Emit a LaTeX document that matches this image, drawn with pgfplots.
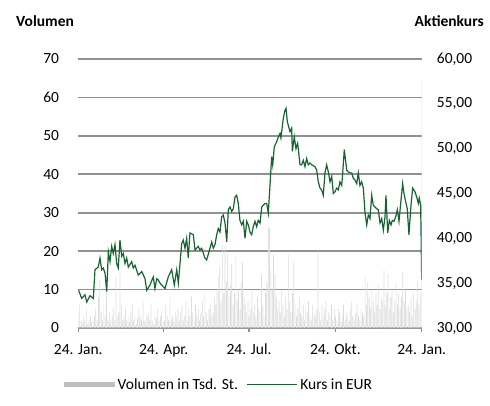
\documentclass[border=0pt]{standalone}
\usepackage{fontspec}
\setmainfont{Carlito}
\usepackage{pgfplots}
\usepackage{pgfplotstable}
\pgfplotsset{compat=1.18}
\definecolor{kurs}{RGB}{24,99,50}
\definecolor{vol}{RGB}{220,220,220}
\definecolor{legvol}{RGB}{191,191,191}
\definecolor{gridc}{RGB}{145,145,145}

\pgfplotstableread{
v
4
6
2
1.5
3
2
5
1
2
3
1.5
2
3
5
2
8
12.5
4
2
6
3
9.4
2
4
1.5
3
5
2
13.4
3
4
14.3
6
2
3
5
2
3
1.5
4
6
2
3
1
2.5
5
3
2
7
2
1.5
3
4
2
6
2
1
3
2.5
5
2
3
4
1.5
2
6
3
2
8
2
3
1.5
4
3
5
2
4
6
2
3
7
2
5
3
8.2
4
2
6
3
5
2
4
7
3
9.5
4
2
5
6
3
4
8
6
10
13.4
16
7
21.6
9
21.2
12
19.5
8
11
16.8
6
9
19
7
10
5
12
17
8
6
4
7
3
5
10
4
6
3
8
5
4
13.8
6
3
9
12
26.4
26
15
10
19
14
8
5
7
4
10
6
3
8
5
19
7
4
9
17
6
3
5
8
4
3
6
2
5
4
7
3
2
6
4
3
5
20
4
2
6
3
5
7
2
4
3
6
2
5
3
2
5
4
1.5
3
6
2
4
3
2
5
7
3
2
4
6
3
2
5
4
3
13.8
6
12
8
5
10
7
4
9
6
11
5
8
7
15
6
9
14
5
8
10
4
7
12
6
9
5
8
14.6
7
10
5
6
4
8
3
9
5
7
12
6
9
64.5
}\voltable

\pgfplotstableread{
d p
0 34.3
3.6 33.3
7.1 33.7
9.0 32.9
12.5 33.6
16.0 33.3
17.8 36.5
21.3 36.8
23.1 37.8
24.9 36.5
26.6 36.7
28.5 36.1
30.3 34.05
32.0 38.5
33.8 37.4
35.6 39.1
37.3 38.3
39.1 39.3
40.9 37.2
42.6 36.7
44.4 39.8
46.3 38.0
48.0 38.3
49.8 37.2
51.6 37.8
53.3 36.8
56.9 37.4
58.6 36.7
60.4 37.0
63.9 35.9
67.6 36.3
71.1 35.5
72.9 34.2
76.4 34.8
79.9 35.7
81.7 34.4
83.6 35.5
85.3 35.35
87.1 35.0
88.9 34.8
92.4 34.4
95.9 35.7
99.5 36.5
102.3 34.8
104.9 36.5
106.6 35.0
110.2 39.4
111.9 39.8
113.7 38.9
115.5 40.0
117.2 37.8
119.0 40.6
122.6 40.4
124.4 38.7
127.9 39.1
129.7 38.7
131.5 38.9
135.0 37.8
136.8 37.6
140.4 38.9
142.2 39.6
143.9 38.9
145.7 39.3
147.5 40.4
149.2 41.1
151.0 40.7
152.8 42.4
154.5 42.6
156.4 41.7
158.2 39.6
159.9 43.2
161.7 43.5
163.5 43.0
165.2 43.3
167.0 44.6
168.8 44.8
170.5 43.9
172.3 42.0
174.2 41.5
175.9 41.9
177.7 40.0
179.5 41.9
181.2 41.5
183.0 40.7
184.8 40.4
186.5 41.3
188.3 41.9
190.1 41.3
191.8 42.0
193.7 41.7
195.5 43.5
199.0 43.9
200.8 43.9
202.5 42.8
204.3 45.9
206.1 49.1
207.2 48.2
208.9 50.2
211.5 50.8
213.2 51.3
215.0 51.7
216.0 51.2
218.5 53.4
220.3 54.3
221.4 54.5
222.8 53.0
225.6 51.9
227.4 52.3
228.1 49.7
230.2 51.3
232.0 50.0
233.8 50.6
235.2 49.3
236.3 48.2
238.1 48.2
239.8 48.7
241.6 48.0
243.4 48.9
245.1 48.2
246.9 48.4
248.7 48.2
252.2 48.0
254.1 47.6
255.8 46.3
257.6 45.6
259.4 45.4
261.1 44.8
262.9 47.3
264.7 48.2
266.5 47.4
268.3 46.3
270.1 46.9
271.8 45.0
273.6 45.2
275.4 45.6
277.1 45.4
278.9 46.3
280.7 45.9
281.4 46.7
283.5 49.9
286.1 47.6
287.8 47.4
289.6 47.3
291.4 47.3
293.1 46.7
294.9 46.5
296.7 46.1
298.4 47.3
300.2 45.9
302.0 46.3
303.8 45.6
305.6 42.8
307.4 41.5
309.1 42.6
310.9 42.2
312.7 44.8
314.4 43.7
316.2 43.5
318.0 43.3
319.7 43.2
321.6 41.7
323.4 42.2
325.1 40.9
326.9 42.4
327.9 44.8
329.8 40.6
331.5 42.0
333.3 41.5
334.7 42.0
336.5 41.9
338.3 42.4
340.0 43.2
341.8 41.9
343.6 43.9
345.7 46.1
347.1 45.0
348.9 44.1
350.6 43.3
352.4 40.4
354.6 43.7
356.4 45.6
358.8 45.2
360.7 44.6
362.4 43.9
363.4 44.5
364.9 43.7
366 35.4
}\kurstable

\begin{document}
\begin{tikzpicture}[font=\fontsize{15.5pt}{18pt}\selectfont]
\path[use as bounding box] (0,0) rectangle (490pt,405pt);
\begin{axis}[
  at={(78.3pt,77pt)}, anchor=south west,
  scale only axis, width=343.4pt, height=269pt,
  xmin=0, xmax=366, ymin=0, ymax=70,
  axis x line*=bottom, axis y line*=left,
  y axis line style={draw=none},
  x axis line style={gridc, line width=1.6pt, -},
  ytick={0,10,...,70}, ytick style={draw=none},
  ymajorgrids, grid style={gridc, line width=1.6pt},
  xtick={0,91,182,274,366},
  xticklabels={24. Jan.,24. Apr.,24. Jul.,24. Okt.,24. Jan.},
  tick align=outside, major tick length=4pt,
  xtick style={gridc, line width=1.2pt},
  /pgf/number format/assume math mode=true,
  yticklabel style={inner sep=0pt, xshift=-15pt},
  xticklabel style={inner sep=0pt, yshift=-12pt},
  legend style={at={(-0.0416,-0.21)}, anchor=west, draw=none, fill=none,
    inner sep=0pt, legend columns=2, nodes={inner xsep=2.5pt}},
  legend cell align=left,
]
\addplot[ybar, bar width=0.7pt, fill=vol, draw=none,
  legend image code/.code={\fill[legvol] (0pt,-2.8pt) rectangle (51pt,2.8pt);}]
  table[x expr=\coordindex*1.435294, y index=0] {\voltable};
\addlegendentry{Volumen in Tsd. St.\rule{6pt}{0pt}}
\addlegendimage{legend image code/.code={\draw[kurs, line width=1.2pt] (0pt,0pt) -- (50pt,0pt);}}
\addlegendentry{Kurs in EUR}
\end{axis}
\begin{axis}[
  at={(78.3pt,77pt)}, anchor=south west,
  scale only axis, width=343.4pt, height=269pt,
  xmin=0, xmax=366, ymin=30, ymax=60,
  axis x line=none, axis y line*=right,
  y axis line style={draw=none},
  ytick={30,35,...,60}, ytick style={draw=none},
  /pgf/number format/assume math mode=true,
  /pgf/number format/fixed, /pgf/number format/fixed zerofill,
  /pgf/number format/precision=2, /pgf/number format/use comma,
  yticklabel style={inner sep=0pt, xshift=15pt, anchor=west},
]
\addplot[kurs, line width=1.2pt, mark=none] table[x=d, y=p] {\kurstable};
\end{axis}
\node[anchor=base west, font=\fontsize{15.5pt}{18pt}\selectfont\bfseries] at (12.7pt,378pt) {Volumen};
\node[anchor=base east, font=\fontsize{15.5pt}{18pt}\selectfont\bfseries] at (487.3pt,378pt) {Aktienkurs};
\end{tikzpicture}
\end{document}
